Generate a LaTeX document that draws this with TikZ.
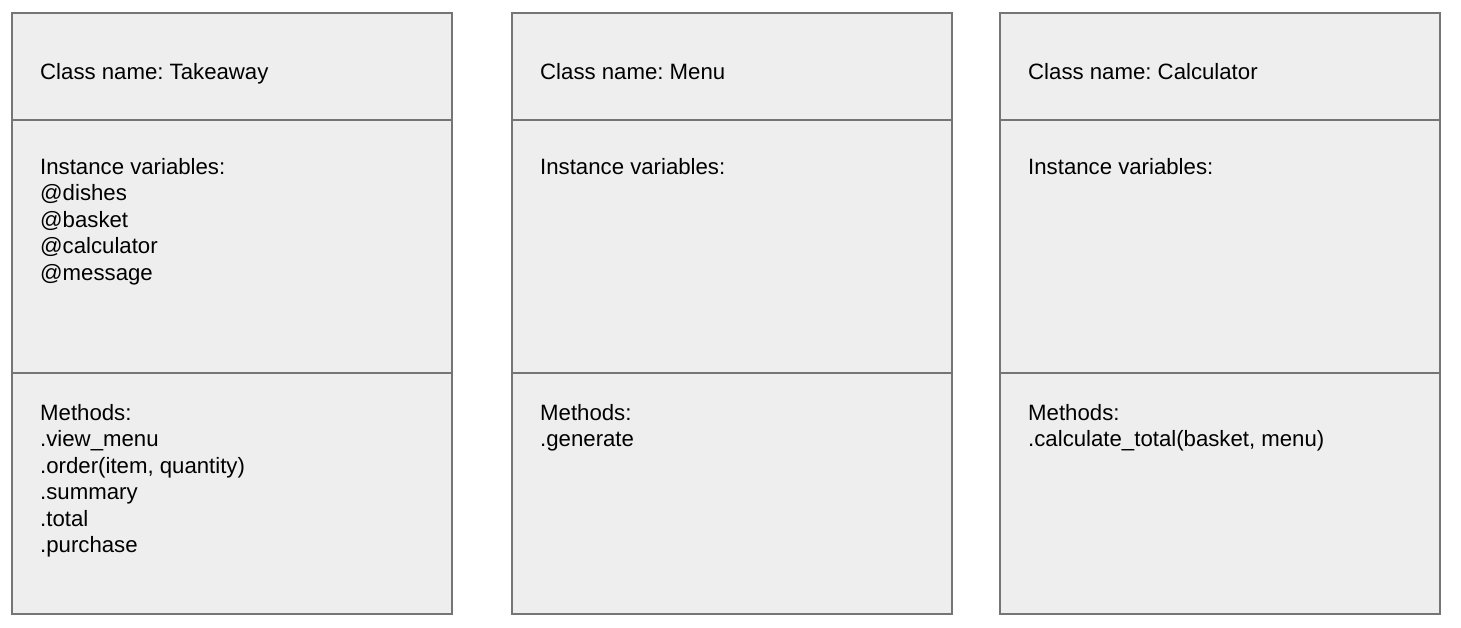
\documentclass[tikz,border=0pt]{standalone}
\usepackage{fontspec}
\setmainfont{Liberation Sans}
\frenchspacing
\definecolor{boxfill}{HTML}{EEEEEE}
\definecolor{boxline}{HTML}{757575}
\begin{document}
\begin{tikzpicture}[x=1pt,y=-1pt,
  part/.style={draw=boxline, fill=boxfill, line width=1.5pt, anchor=north west, inner sep=0pt, minimum width=440pt},
  label/.style={anchor=base west, inner sep=0pt, font=\fontsize{22.2}{26.4}\selectfont, text=black}]
\useasboundingbox (0,0) rectangle (1461,627);
% Takeaway
\node[part, minimum height=107pt] (t1) at (11,12) {};
\node[part, minimum height=253pt] (t2) at (11,119) {};
\node[part, minimum height=241pt] (t3) at (11,372) {};
% Menu
\node[part, minimum height=107pt] (m1) at (511,12) {};
\node[part, minimum height=253pt] (m2) at (511,119) {};
\node[part, minimum height=241pt] (m3) at (511,372) {};
% Calculator
\node[part, minimum height=107pt] (c1) at (999,12) {};
\node[part, minimum height=253pt] (c2) at (999,119) {};
\node[part, minimum height=241pt] (c3) at (999,372) {};
% texts
\node[label] (tn) at (40,79.5) {Class name: Takeaway};
\foreach \txt [count=\i] in {Instance variables:,@dishes,@basket,@calculator,@message}
  \node[label] (tv-\i) at (40,{174.5+26.4*(\i-1)}) {\txt};
\foreach \txt [count=\i] in {Methods:,.view\_menu,{.order(item, quantity)},.summary,.total,.purchase}
  \node[label] (tm-\i) at (40,{420.5+26.4*(\i-1)}) {\txt};
\node[label] (mn) at (540,79.5) {Class name: Menu};
\node[label] (mv) at (540,174.5) {Instance variables:};
\node[label] (mm-1) at (540,420.5) {Methods:};
\node[label] (mm-2) at (540,446.9) {.generate};
\node[label] (cn) at (1028,79.5) {Class name: Calculator};
\node[label] (cv) at (1028,174.5) {Instance variables:};
\node[label] (cm-1) at (1028,420.5) {Methods:};
\node[label] (cm-2) at (1028,446.9) {.calculate\_total(basket, menu)};
\end{tikzpicture}
\end{document}
